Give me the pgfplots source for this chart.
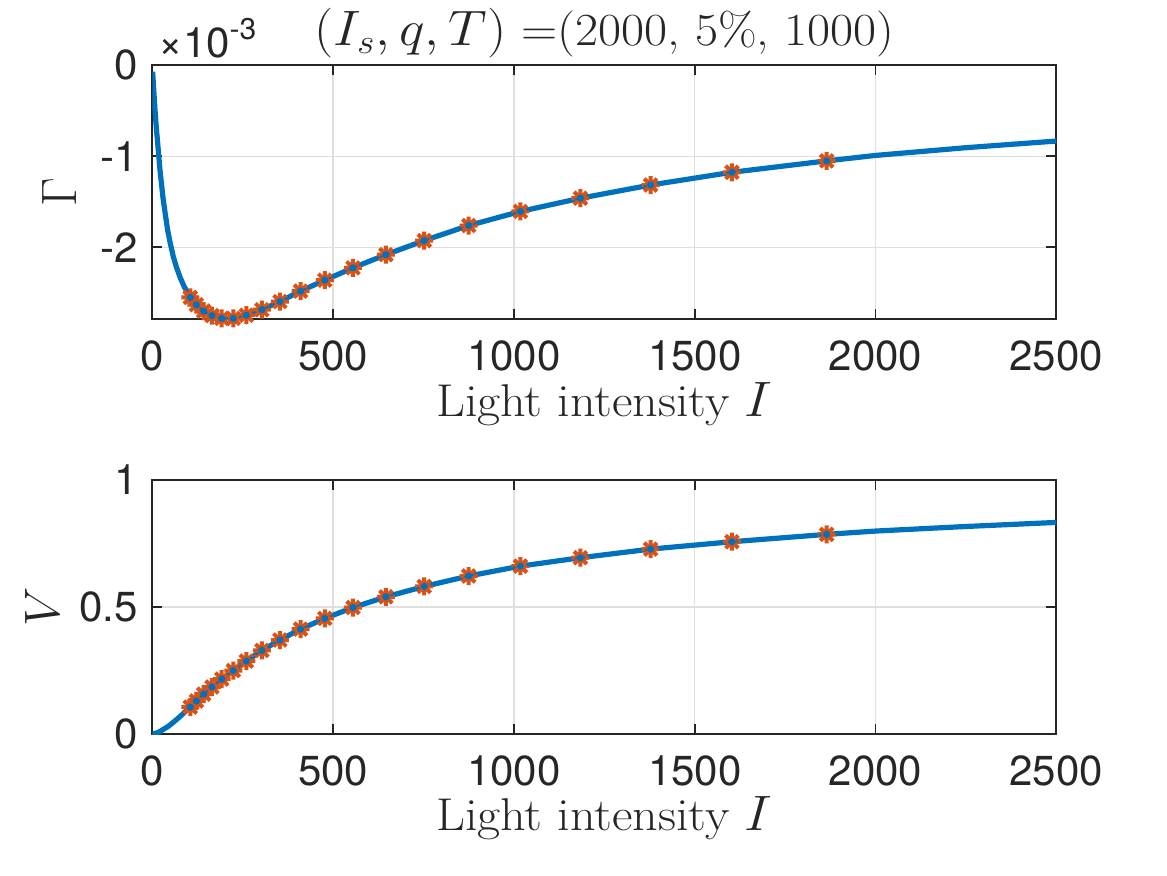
\documentclass[border=0pt]{standalone}
\usepackage{fontspec}
\usepackage{graphicx}
\usepackage{pgfplots}
\usepackage{pgfplotstable}
\pgfplotsset{compat=1.18}
\newfontfamily\hv{TeX Gyre Heros}
\definecolor{mblue}{RGB}{0,114,189}
\definecolor{morange}{RGB}{217,83,25}
\definecolor{axc}{RGB}{38,38,38}
\definecolor{gridc}{RGB}{223,223,223}

\pgfdeclareplotmark{mstar}{%
 \pgfpathmoveto{\pgfqpoint{-\pgfplotmarksize}{0pt}}\pgfpathlineto{\pgfqpoint{\pgfplotmarksize}{0pt}}%
 \pgfpathmoveto{\pgfqpoint{0pt}{-\pgfplotmarksize}}\pgfpathlineto{\pgfqpoint{0pt}{\pgfplotmarksize}}%
 \pgfpathmoveto{\pgfqpoint{-0.7071\pgfplotmarksize}{-0.7071\pgfplotmarksize}}\pgfpathlineto{\pgfqpoint{0.7071\pgfplotmarksize}{0.7071\pgfplotmarksize}}%
 \pgfpathmoveto{\pgfqpoint{-0.7071\pgfplotmarksize}{0.7071\pgfplotmarksize}}\pgfpathlineto{\pgfqpoint{0.7071\pgfplotmarksize}{-0.7071\pgfplotmarksize}}%
 \pgfusepathqstroke}

% Gamma curve
\pgfplotstableread{
I G
1 -0.07e-3
4 -0.27e-3
7.5 -0.49e-3
11 -0.68e-3
15 -0.86e-3
21 -1.14e-3
30 -1.47e-3
42 -1.80e-3
50 -1.96e-3
58 -2.10e-3
67 -2.22e-3
77 -2.33e-3
88 -2.43e-3
98 -2.50e-3
105 -2.55e-3
122 -2.63e-3
142 -2.70e-3
165 -2.75e-3
192 -2.78e-3
208 -2.785e-3
224 -2.78e-3
260 -2.745e-3
303 -2.685e-3
353 -2.595e-3
410 -2.48e-3
477 -2.36e-3
555 -2.225e-3
646 -2.08e-3
752 -1.925e-3
875 -1.76e-3
1018 -1.605e-3
1184 -1.46e-3
1378 -1.315e-3
1603 -1.175e-3
1865 -1.05e-3
2000 -0.99e-3
2250 -0.905e-3
2500 -0.832e-3
}\gcurve

% Gamma samples
\pgfplotstableread{
I G
105 -2.55e-3
122 -2.63e-3
142 -2.70e-3
165 -2.75e-3
192 -2.78e-3
224 -2.78e-3
260 -2.745e-3
303 -2.685e-3
353 -2.595e-3
410 -2.48e-3
477 -2.36e-3
555 -2.225e-3
646 -2.08e-3
752 -1.925e-3
875 -1.76e-3
1018 -1.605e-3
1184 -1.46e-3
1378 -1.315e-3
1603 -1.175e-3
1865 -1.05e-3
}\gpts

% V curve
\pgfplotstableread{
I V
0 0
10 0.003
20 0.009
30 0.018
45 0.031
58 0.046
72 0.063
86 0.081
105 0.106
122 0.13
142 0.157
165 0.185
192 0.216
224 0.25
260 0.287
303 0.329
353 0.37
410 0.413
477 0.455
555 0.498
646 0.54
752 0.581
875 0.622
1018 0.661
1184 0.694
1378 0.728
1603 0.757
1865 0.786
2000 0.799
2250 0.817
2500 0.833
}\vcurve

% V samples
\pgfplotstableread{
I V
105 0.106
122 0.13
142 0.157
165 0.185
192 0.216
224 0.25
260 0.287
303 0.329
353 0.37
410 0.413
477 0.455
555 0.498
646 0.54
752 0.581
875 0.622
1018 0.661
1184 0.694
1378 0.728
1603 0.757
1865 0.786
}\vpts

\newcommand{\lfont}{\fontsize{23}{27}\selectfont}
\newcommand{\tfont}{\hv\fontsize{21}{24}\selectfont}
\pgfplotsset{mystyle/.style={
 scale only axis, width=452pt, height=127pt,
 xmin=0, xmax=2500,
 clip mode=individual,
 xtick={0,500,1000,1500,2000,2500}, xticklabels={0,500,1000,1500,2000,2500},
 scaled ticks=false,
 tick align=inside, tick pos=both, major tick length=5pt,
 grid=major, major grid style={gridc, line width=0.7pt},
 axis line style={axc, line width=0.9pt},
 tick style={axc, line width=0.9pt},
 tick label style={font=\tfont, text=axc},
 xticklabel style={inner sep=0pt, anchor=north, yshift=-10.7pt},
 yticklabel style={inner sep=0pt, anchor=east, xshift=-7pt},
 label style={font=\lfont, text=axc},
 xlabel={\scalebox{1.09}[1]{Light intensity $I$}},
 xlabel style={at={(axis description cs:0.5,-0.381)}, anchor=base, inner sep=0pt},
}}

\begin{document}
\begin{tikzpicture}
\useasboundingbox (0,0) rectangle (583.5pt,437.5pt);

\begin{axis}[mystyle,
 at={(76.15pt,277.85pt)}, anchor=south west,
 ymin=-2.79e-3, ymax=0,
 ytick={-0.002,-0.001,0}, yticklabels={-2,-1,0},
]
\addplot[mblue, line width=2.6pt, no marks] table[x=I, y=G] {\gcurve};
\addplot[only marks, mark=mstar, mark size=4.5pt, mark options={morange, line width=2pt}] table[x=I, y=G] {\gpts};
\addplot[mblue, line width=0.9pt, dash pattern=on 1.5pt off 2pt, mark=*, mark size=1.3pt, mark options={solid, fill=mblue, draw=none}] table[x=I, y=G] {\gpts};
\node[anchor=base west, inner sep=0pt, text=axc] at (axis description cs:0.0064,1.0295) {\tfont\texttimes10\raisebox{9pt}{\fontsize{15}{17}\selectfont -3}};
\node[anchor=base, inner sep=0pt, font=\lfont, text=axc] at (axis description cs:0.5,1.0768) {\scalebox{1.09}[1]{$(I_s, q, T)$ =(2000, 5\%, 1000)}};
\node[rotate=90, anchor=base, inner sep=0pt, font=\lfont, text=axc] at (axis description cs:-0.0841,0.5) {$\Gamma$};
\end{axis}

\begin{axis}[mystyle,
 at={(76.15pt,70.5pt)}, anchor=south west,
 ymin=0, ymax=1,
 ytick={0,0.5,1}, yticklabels={0,0.5,1},
]
\addplot[mblue, line width=2.6pt, no marks] table[x=I, y=V] {\vcurve};
\addplot[only marks, mark=mstar, mark size=4.5pt, mark options={morange, line width=2pt}] table[x=I, y=V] {\vpts};
\addplot[mblue, line width=0.9pt, dash pattern=on 1.5pt off 2pt, mark=*, mark size=1.3pt, mark options={solid, fill=mblue, draw=none}] table[x=I, y=V] {\vpts};
\node[rotate=90, anchor=base, inner sep=0pt, font=\lfont, text=axc] at (axis description cs:-0.1029,0.5) {$V$};
\end{axis}
\end{tikzpicture}
\end{document}
